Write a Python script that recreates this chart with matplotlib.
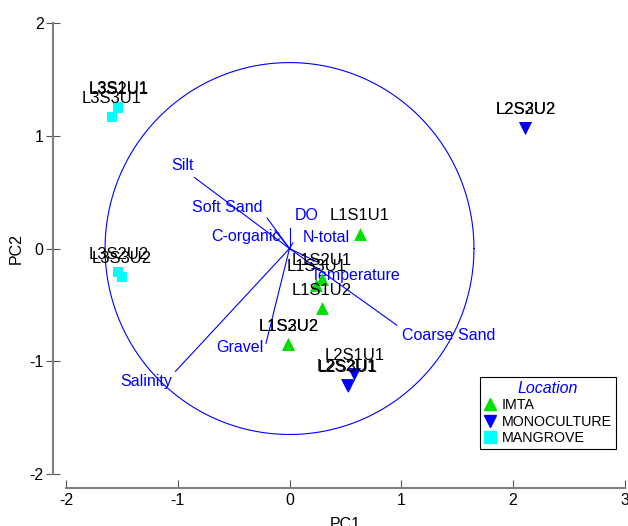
import numpy as np
import matplotlib
matplotlib.use('Agg')
import matplotlib.pyplot as plt
from matplotlib.lines import Line2D

plt.rcParams['font.family'] = ['Liberation Sans', 'DejaVu Sans']
plt.rcParams['axes.unicode_minus'] = False

# samples (PC1, PC2)
imta_names = ['L1S1U1', 'L1S2U1', 'L1S3U1', 'L1S1U2', 'L1S2U2', 'L1S3U2']
imta_pc1 = [0.63, 0.29, 0.24, 0.29, -0.01, -0.01]
imta_pc2 = [0.13, -0.27, -0.32, -0.53, -0.85, -0.85]

mono_names = ['L2S1U1', 'L2S2U1', 'L2S3U1', 'L2S2U2', 'L2S3U2']
mono_pc1 = [0.58, 0.51, 0.52, 2.11, 2.11]
mono_pc2 = [-1.11, -1.21, -1.22, 1.07, 1.07]

mang_names = ['L3S1U1', 'L3S2U1', 'L3S3U1', 'L3S2U2', 'L3S3U2']
mang_pc1 = [-1.53, -1.53, -1.59, -1.53, -1.50]
mang_pc2 = [1.26, 1.25, 1.17, -0.21, -0.25]

# variable vectors
var_names = ['Silt', 'Soft Sand', 'C-organic', 'DO', 'N-total',
             'Temperature', 'Coarse Sand', 'Gravel', 'Salinity']
var_x = [-0.85, -0.20, -0.13, 0.00, 0.03, 0.25, 0.96, -0.21, -1.02]
var_y = [0.63, 0.27, 0.16, 0.18, 0.05, -0.12, -0.68, -0.84, -1.09]
lab_x = [-0.96, -0.56, -0.39, 0.15, 0.33, 0.59, 1.42, -0.44, -1.28]
lab_y = [0.74, 0.36, 0.11, 0.29, 0.10, -0.24, -0.77, -0.88, -1.18]

circle_r = 1.65

fig = plt.figure(figsize=(6.28, 5.26), dpi=100)
ax = fig.add_axes([0.105, 0.099, 0.890, 0.857])
ax.set_xlim(-2, 3)
ax.set_ylim(-2, 2)

blue = '#0000ff'
t = np.linspace(0, 2 * np.pi, 400)
ax.plot(circle_r * np.cos(t), circle_r * np.sin(t), color=blue, lw=0.8)

for i in range(len(var_names)):
    ax.plot([0, var_x[i]], [0, var_y[i]], color=blue, lw=0.8)
    ax.text(lab_x[i], lab_y[i], var_names[i], color=blue, fontsize=11.5,
            ha='center', va='center')

groups = [
    (imta_names, imta_pc1, imta_pc2, '^', '#00e000', 85, 'IMTA'),
    (mono_names, mono_pc1, mono_pc2, 'v', blue, 85, 'MONOCULTURE'),
    (mang_names, mang_pc1, mang_pc2, 's', '#00ffff', 60, 'MANGROVE'),
]
for names, xs, ys, mk, col, s, lbl in groups:
    ax.scatter(xs, ys, marker=mk, color=col, s=s, zorder=3, linewidths=0)
    for n, x, y in zip(names, xs, ys):
        ax.annotate(n, (x, y), xytext=(0, 13), textcoords='offset points',
                    ha='center', va='center', fontsize=12, color='black')

handles = [Line2D([], [], marker=g[3], color=g[4], linestyle='none',
                  markersize=8) for g in groups]
leg = ax.legend(handles, [g[6] for g in groups], title='Location',
                loc='upper left', bbox_to_anchor=(0.741, 0.215),
                fontsize=10.3, frameon=True, fancybox=False,
                edgecolor='black', framealpha=1, handlelength=0.8,
                handletextpad=0.4, labelspacing=0.15, borderpad=0.3,
                borderaxespad=0)
leg.get_title().set_color(blue)
leg.get_title().set_fontstyle('italic')
leg.get_title().set_fontsize(11.5)
leg.get_frame().set_linewidth(0.8)

for side in ['top', 'right']:
    ax.spines[side].set_visible(False)
ax.spines['left'].set_position(('outward', 9))
ax.spines['bottom'].set_position(('outward', 10))
for side in ['left', 'bottom']:
    ax.spines[side].set_color('#808080')
    ax.spines[side].set_linewidth(1.5)
ax.set_xticks([-2, -1, 0, 1, 2, 3])
ax.set_yticks([-2, -1, 0, 1, 2])
ax.tick_params(axis='x', direction='in', length=6, labelsize=11.5, pad=4,
               color='#555555')
ax.tick_params(axis='y', direction='inout', length=10, labelsize=11.5, pad=2,
               color='#555555')
ax.set_xlabel('PC1', fontsize=11.5, labelpad=6)
ax.set_ylabel('PC2', fontsize=11.5, labelpad=4)

fig.savefig('out.png', dpi=100)
